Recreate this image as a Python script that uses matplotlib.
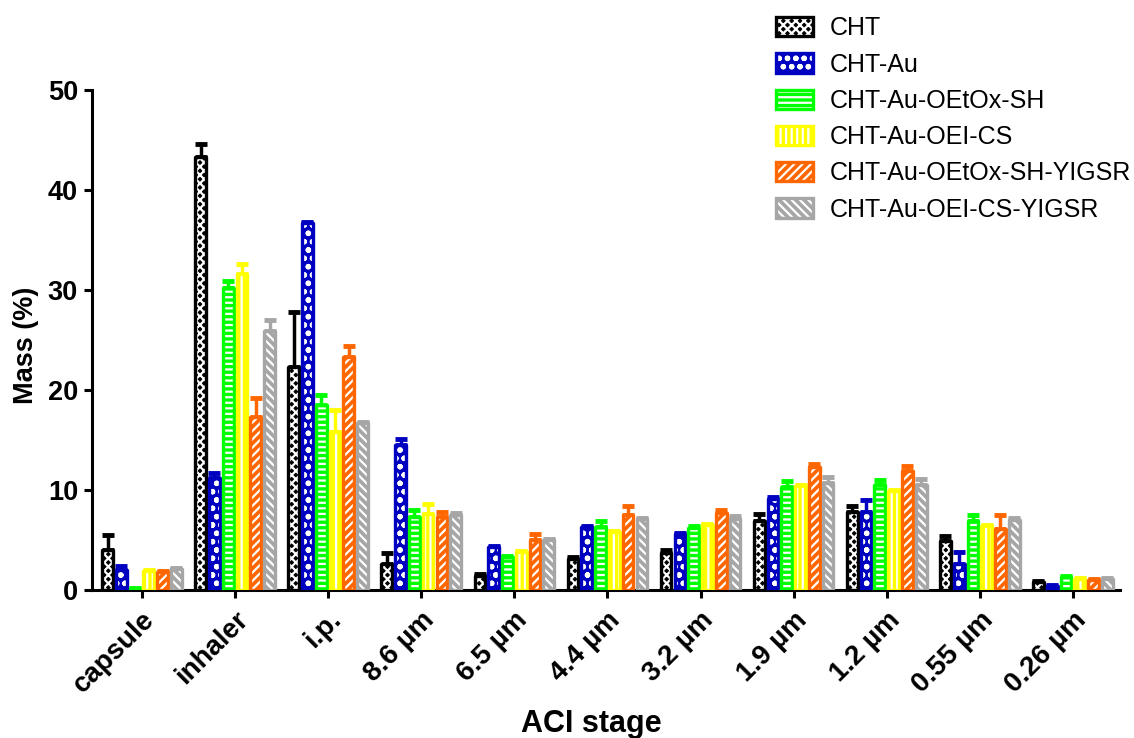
import numpy as np
import matplotlib.pyplot as plt
from matplotlib.patches import Patch
from matplotlib.legend_handler import HandlerTuple

plt.rcParams['font.family'] = ['Liberation Sans', 'DejaVu Sans']
plt.rcParams['hatch.linewidth'] = 1.6

stages = ['capsule', 'inhaler', 'i.p.', '8.6 µm', '6.5 µm', '4.4 µm',
          '3.2 µm', '1.9 µm', '1.2 µm', '0.55 µm', '0.26 µm']

series = ['CHT', 'CHT-Au', 'CHT-Au-OEtOx-SH', 'CHT-Au-OEI-CS',
          'CHT-Au-OEtOx-SH-YIGSR', 'CHT-Au-OEI-CS-YIGSR']

cht = [4.0, 43.3, 22.3, 2.6, 1.4, 3.1, 3.7, 6.9, 7.8, 4.9, 0.8]
cht_err = [1.5, 1.3, 5.5, 1.1, 0.2, 0.2, 0.3, 0.7, 0.6, 0.5, 0.1]
cht_au = [2.0, 11.2, 36.7, 14.5, 4.3, 6.3, 5.6, 9.1, 7.8, 2.6, 0.4]
cht_au_err = [0.4, 0.5, 0.1, 0.6, 0.1, 0.1, 0.1, 0.2, 1.2, 1.2, 0.1]
oetox = [0.1, 30.2, 18.5, 7.3, 3.3, 6.3, 6.2, 10.3, 10.5, 6.9, 1.3]
oetox_err = [0.1, 0.7, 1.0, 0.7, 0.1, 0.6, 0.2, 0.6, 0.5, 0.6, 0.1]
oei = [1.9, 31.6, 15.8, 7.6, 3.8, 5.8, 6.5, 10.4, 9.9, 6.4, 1.1]
oei_err = [0.1, 1.0, 2.2, 1.0, 0.1, 0.1, 0.1, 0.1, 0.1, 0.1, 0.1]
oetox_yigsr = [1.8, 17.3, 23.3, 7.3, 5.0, 7.5, 7.7, 12.3, 11.9, 6.1, 1.0]
oetox_yigsr_err = [0.1, 1.9, 1.1, 0.5, 0.6, 0.9, 0.3, 0.3, 0.5, 1.4, 0.1]
oei_yigsr = [2.1, 25.9, 16.7, 7.5, 5.0, 7.1, 7.1, 10.7, 10.5, 7.0, 1.1]
oei_yigsr_err = [0.1, 1.1, 0.1, 0.2, 0.1, 0.1, 0.3, 0.6, 0.6, 0.2, 0.1]

values = [cht, cht_au, oetox, oei, oetox_yigsr, oei_yigsr]
errors = [cht_err, cht_au_err, oetox_err, oei_err, oetox_yigsr_err, oei_yigsr_err]
colors = ['#000000', '#0000C0', '#00FF00', '#FFFF00', '#FF6600', '#A6A6A6']
hatches = ['xxxx', 'oo', '---', '|||', '////', '\\\\\\\\']

fig = plt.figure(figsize=(11.34, 7.38), dpi=100)
ax = fig.add_axes([0.0811, 0.2005, 0.9065, 0.6775])

x = np.arange(len(stages))
step = 0.148
width = 0.115
handles = []
for i, (vals, errs, c, h) in enumerate(zip(values, errors, colors, hatches)):
    pos = x + (i - 2.5) * step
    ax.errorbar(pos, vals, yerr=[np.zeros(len(errs)), errs], fmt='none',
                ecolor=c, elinewidth=2.5, capsize=4, capthick=3.5, zorder=2)
    ax.bar(pos, vals, width, color=c, edgecolor='white', hatch=h,
           linewidth=0, zorder=3)
    ax.bar(pos, vals, width, fill=False, edgecolor=c, linewidth=2.4,
           joinstyle='round', zorder=4)
    # fill + outline drawn on top of each other in the legend box
    handles.append((Patch(facecolor=c, edgecolor='white', hatch=h, linewidth=0),
                    Patch(fill=False, edgecolor=c, linewidth=2.4)))

ax.set_xlim(-0.537, 10.505)
ax.set_ylim(0, 50)
ax.set_yticks([0, 10, 20, 30, 40, 50])
ax.set_xticks(x)
ax.set_xticklabels(stages, rotation=45, ha='right', rotation_mode='anchor',
                   fontsize=20, fontweight='bold')
for lbl in ax.get_yticklabels():
    lbl.set_fontsize(19.5)
    lbl.set_fontweight('bold')

for side in ['top', 'right']:
    ax.spines[side].set_visible(False)
for side in ['left', 'bottom']:
    ax.spines[side].set_linewidth(2.2)
ax.tick_params(axis='both', direction='out', width=2.2, length=6)
ax.tick_params(axis='y', pad=4)
ax.tick_params(axis='x', pad=6)

ax.set_ylabel('Mass (%)', fontsize=19.5, fontweight='bold')
ax.yaxis.set_label_coords(-0.052, 0.49)
ax.set_xlabel('ACI stage', fontsize=22, fontweight='bold')
ax.xaxis.set_label_coords(0.486, -0.238)

fig.legend(handles, series, handler_map={tuple: HandlerTuple(ndivide=1, pad=0)},
           loc='upper left', bbox_to_anchor=(0.671, 0.998), frameon=False,
           fontsize=18, handlelength=1.5, handleheight=0.8,
           handletextpad=0.65, labelspacing=0.49, borderpad=0.1)

fig.savefig('out.png', dpi=100)
